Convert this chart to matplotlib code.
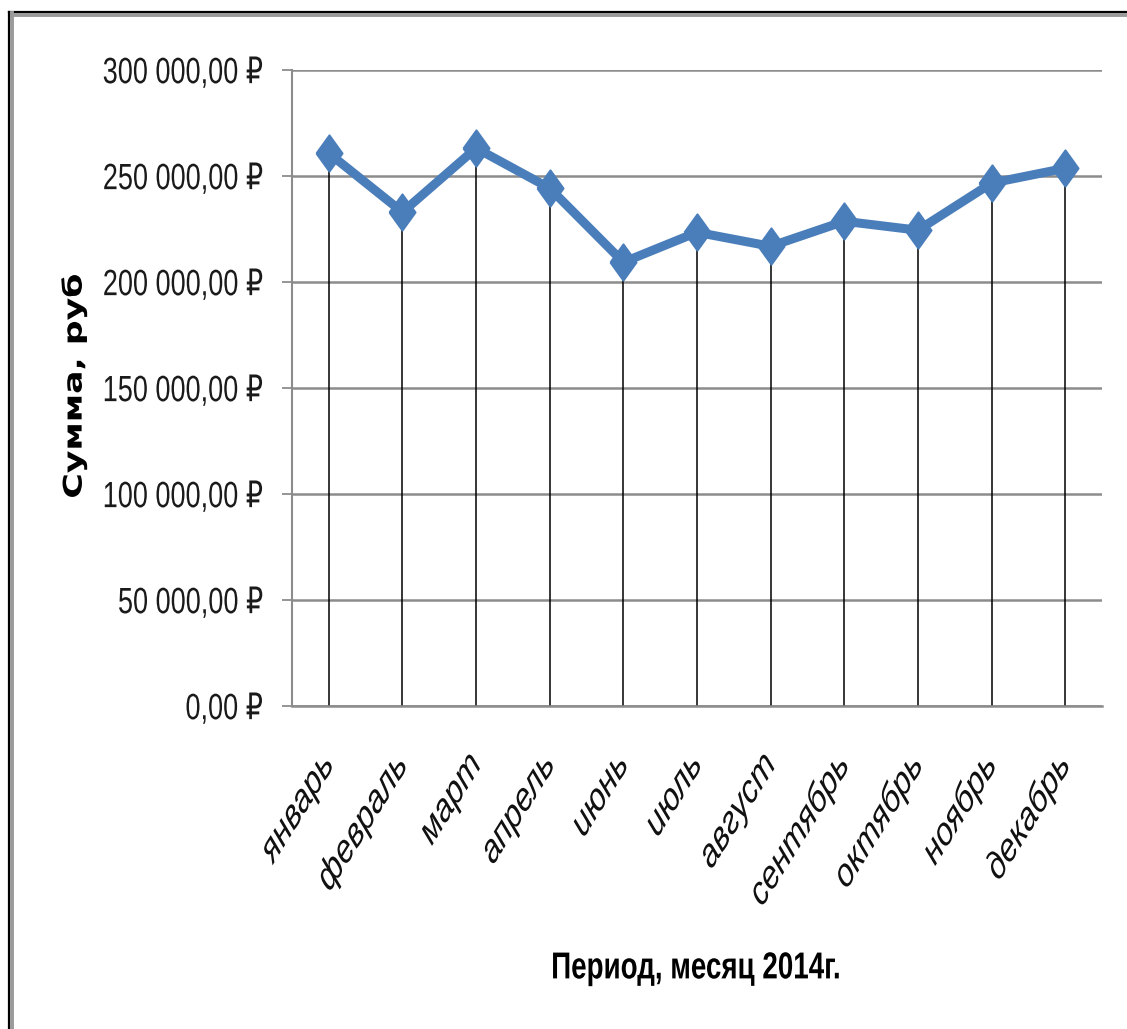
import matplotlib
matplotlib.use("Agg")
import matplotlib.pyplot as plt
from matplotlib.lines import Line2D
from matplotlib.patheffects import AbstractPathEffect
from matplotlib.transforms import Affine2D

# ---- data ----
months = ["январь", "февраль", "март", "апрель", "июнь", "июль",
          "август", "сентябрь", "октябрь", "ноябрь", "декабрь"]
amounts = [260600, 232800, 263000, 244100, 209200, 223300,
           216700, 228500, 224300, 246500, 253500]
y_ticks = [0, 50000, 100000, 150000, 200000, 250000, 300000]
y_tick_labels = ["0,00 ₽", "50 000,00 ₽", "100 000,00 ₽", "150 000,00 ₽",
                 "200 000,00 ₽", "250 000,00 ₽", "300 000,00 ₽"]
x_title = "Период, месяц 2014г."
y_title = "Сумма, руб"


class VStretch(AbstractPathEffect):
    """Stretch the drawn glyphs vertically (in display space) about an anchor."""

    def __init__(self, sy, anchor="center"):
        super().__init__()
        self.sy = sy
        self.anchor = anchor

    def draw_path(self, renderer, gc, tpath, affine, rgbFace=None):
        ext = tpath.get_extents()
        if self.anchor == "right":
            rx = ext.x1
        elif self.anchor == "left":
            rx = ext.x0
        else:
            rx = (ext.x0 + ext.x1) / 2
        ry = ext.y1 / 2
        px, py = affine.transform((rx, ry))
        t = affine + Affine2D().translate(-px, -py).scale(1, self.sy).translate(px, py)
        renderer.draw_path(gc, tpath, t, rgbFace)


SY = 1.35

W, H = 1127, 1029
fig = plt.figure(figsize=(W / 100, H / 100), dpi=100)
fig.patch.set_facecolor("white")

left, right, top, bottom = 292, 1102, 69.7, 705.7
ax = fig.add_axes([left / W, 1 - bottom / H, (right - left) / W, (bottom - top) / H])

n = len(months)
xs = list(range(n))
blue = "#4A7EBB"
grid = "#8c8c8c"

ax.vlines(xs, 0, amounts, colors="black", linewidth=1.1, zorder=2)
diamond = [(-0.72, 0), (0, 1), (0.72, 0), (0, -1), (-0.72, 0)]
ax.plot(xs, amounts, color=blue, linewidth=6.5, marker=diamond,
        markersize=26, markerfacecolor=blue, markeredgecolor=blue,
        markeredgewidth=1.5, zorder=3, solid_joinstyle="round")

ax.set_xlim(-0.5, n - 0.5)
ax.set_ylim(0, 300000)
ax.set_yticks(y_ticks)
ax.set_yticklabels(y_tick_labels, family=["Liberation Sans", "DejaVu Sans"],
                   fontsize=19.5, color="#1a1a1a",
                   path_effects=[VStretch(SY, "right")])
ax.set_xticks(xs)
ax.set_xticklabels(months, rotation=50, rotation_mode="anchor", ha="right", va="center",
                   family=["Liberation Sans", "DejaVu Sans"], style="italic",
                   fontsize=21.5, color="#111111",
                   path_effects=[VStretch(SY, "right")])
ax.tick_params(axis="x", length=0, pad=38)
ax.tick_params(axis="y", length=7, width=1.3, color=grid, pad=14)

ax.yaxis.grid(True, color=grid, linewidth=1.8, zorder=1)
ax.set_axisbelow(True)
for s in ["top", "right"]:
    ax.spines[s].set_visible(False)
ax.spines["left"].set_color(grid)
ax.spines["left"].set_linewidth(1.5)
ax.spines["bottom"].set_color(grid)
ax.spines["bottom"].set_linewidth(1.8)

fig.text(74 / W, 1 - 386 / H, y_title, rotation=90, ha="center", va="center",
         fontsize=18.5, fontweight="bold", family=["DejaVu Sans"], color="black",
         path_effects=[VStretch(SY, "center")])
fig.text(696 / W, 1 - 968 / H, x_title, ha="center", va="center",
         fontsize=20, fontweight="bold", family=["Liberation Sans", "DejaVu Sans"],
         color="black", path_effects=[VStretch(SY, "center")])

# frame border (black line with gray shadow)
fig.add_artist(Line2D([8.5 / W, 1], [1 - 11.5 / H, 1 - 11.5 / H], transform=fig.transFigure,
                      color="black", linewidth=1.6))
fig.add_artist(Line2D([10 / W, 1], [1 - 14.5 / H, 1 - 14.5 / H], transform=fig.transFigure,
                      color="#9a9a9a", linewidth=2.8))
fig.add_artist(Line2D([8.5 / W, 8.5 / W], [0, 1 - 11.5 / H], transform=fig.transFigure,
                      color="black", linewidth=1.6))
fig.add_artist(Line2D([12 / W, 12 / W], [0, 1 - 13 / H], transform=fig.transFigure,
                      color="#9a9a9a", linewidth=2.8))

fig.savefig("out.png", dpi=100, facecolor="white")
